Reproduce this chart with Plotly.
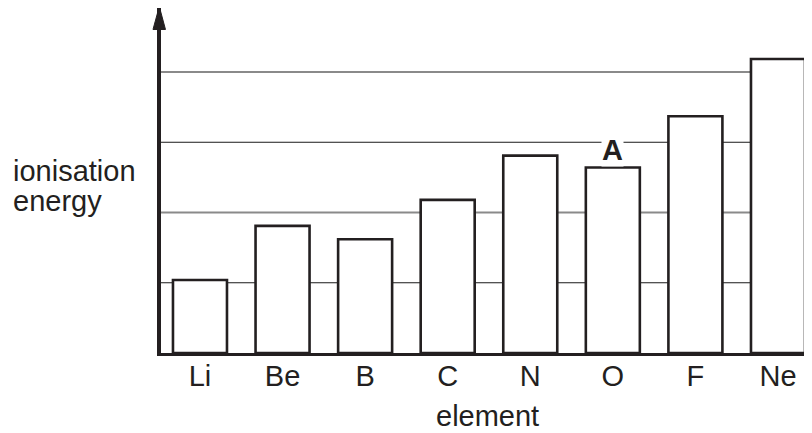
import plotly.graph_objects as go

elements = ["Li", "Be", "B", "C", "N", "O", "F", "Ne"]
ionisation = [1.04, 1.81, 1.62, 2.18, 2.81, 2.64, 3.37, 4.185]
grid_levels = [1, 2, 3, 4]
label_element = "O"
label_text = "A"
label_y = 2.89

INK = "#231f20"
FONT = "Liberation Sans, Arial, sans-serif"
FS = 29

# page body has an 8px margin; size the figure to compensate
BODY = 8
PLOT_L, PLOT_T, PLOT_B, PLOT_R = 161, 8, 353, 812   # plot area in screen px
PW, PH = PLOT_R - PLOT_L, PLOT_B - PLOT_T


def px_x(x):
    return (x - PLOT_L) / PW


def px_y(y):
    return (PLOT_B - y) / PH


fig = go.Figure()
fig.add_trace(go.Bar(
    x=elements, y=ionisation, width=0.654,
    marker=dict(color="white", line=dict(color=INK, width=2.6)),
    hoverinfo="skip",
))

shapes = []
for i, g in enumerate(grid_levels):
    gray = (i % 2 == 1)
    shapes.append(dict(type="line", xref="paper", yref="y", x0=0, x1=1, y0=g, y1=g,
                       line=dict(color="#8a8a8a" if gray else "#1a1a1a", width=2 if gray else 1),
                       layer="below"))
# arrow head on the y axis
shapes.append(dict(type="path", xref="paper", yref="paper",
                   path="M %.5f %.5f L %.5f %.5f L %.5f %.5f Z" % (
                       px_x(153.0), px_y(29.5), px_x(165.5), px_y(29.5), px_x(159.3), px_y(6.5)),
                   fillcolor=INK, line=dict(color=INK, width=1), layer="above"))

fig.update_layout(
    width=812 - BODY, height=433 - BODY,
    margin=dict(l=PLOT_L - BODY, r=0, t=PLOT_T - BODY, b=433 - PLOT_B),
    paper_bgcolor="white", plot_bgcolor="white",
    showlegend=False,
    font=dict(family=FONT, size=FS, color=INK),
    shapes=shapes,
    xaxis=dict(type="category", range=[-0.472, 7.412], showgrid=False, zeroline=False,
               showline=True, linecolor=INK, linewidth=3, ticks="",
               tickfont=dict(size=FS, color=INK), ticklabelstandoff=-5),
    yaxis=dict(range=[0, 4.911], showgrid=False, zeroline=False, showticklabels=False,
               showline=True, linecolor=INK, linewidth=3.5, ticks=""),
    annotations=[
        dict(x=label_element, y=label_y, xref="x", yref="y", text="<b>%s</b>" % label_text,
             showarrow=False, font=dict(size=FS, color=INK), bgcolor="white", borderpad=0),
        dict(x=px_x(11), y=px_y(171), xref="paper", yref="paper", text="ionisation",
             showarrow=False, xanchor="left", yanchor="middle", font=dict(size=FS, color=INK)),
        dict(x=px_x(11), y=px_y(201), xref="paper", yref="paper", text="energy",
             showarrow=False, xanchor="left", yanchor="middle", font=dict(size=FS, color=INK)),
        dict(x=px_x(487.5), y=px_y(416), xref="paper", yref="paper", text="element",
             showarrow=False, xanchor="center", yanchor="middle", font=dict(size=FS, color=INK)),
    ],
)

fig.write_html("out.html")
